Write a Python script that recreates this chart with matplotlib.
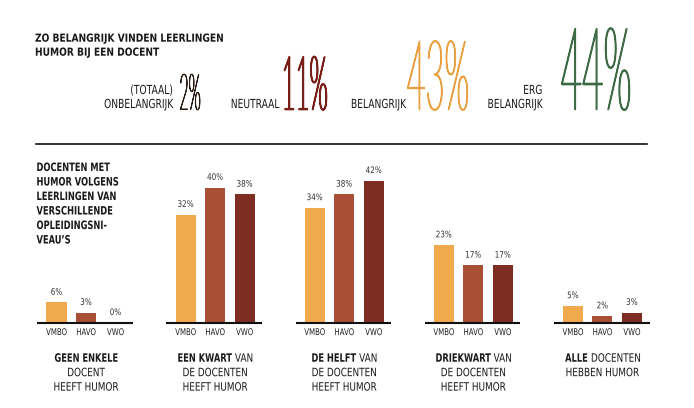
import matplotlib
matplotlib.use('Agg')
import matplotlib.pyplot as plt
import matplotlib.patheffects as pe
from matplotlib.transforms import Affine2D
from matplotlib.lines import Line2D
from matplotlib.textpath import TextPath
from matplotlib.font_manager import FontProperties

# top block: how important pupils find humour in a teacher
title = ['ZO BELANGRIJK VINDEN LEERLINGEN', 'HUMOR BIJ EEN DOCENT']
overall_labels = ['(TOTAAL)\nONBELANGRIJK', 'NEUTRAAL', 'BELANGRIJK', 'ERG\nBELANGRIJK']
overall_pct = [2, 11, 43, 44]

# bars: share of teachers with humour, per school level
levels = ['VMBO', 'HAVO', 'VWO']
vmbo = [6, 32, 34, 23, 5]
havo = [3, 40, 38, 17, 2]
vwo = [0, 38, 42, 17, 3]

side_title = ['DOCENTEN MET', 'HUMOR VOLGENS', 'LEERLINGEN VAN',
              'VERSCHILLENDE', 'OPLEIDINGSNI-', 'VEAU\u2019S']
caption_head = ['GEEN ENKELE', 'EEN KWART', 'DE HELFT', 'DRIEKWART', 'ALLE']
caption_tail = ['', 'VAN', 'VAN', 'VAN', 'DOCENTEN']
caption_body = [['DOCENT', 'HEEFT HUMOR'],
                ['DE DOCENTEN', 'HEEFT HUMOR'],
                ['DE DOCENTEN', 'HEEFT HUMOR'],
                ['DE DOCENTEN', 'HEEFT HUMOR'],
                ['HEBBEN HUMOR']]

bar_colors = ['#f1a94e', '#a84f35', '#7d2d22']
big_colors = ['#2a1a14', '#7a1f17', '#e9a040', '#3d6b45']
big_sizes = [36, 54, 70, 83]
big_sx = [0.32, 0.32, 0.335, 0.32]
big_lw = [0.7, 1.2, 1.0, 1.1]
ink = '#1a1a1a'


class Stretch(pe.AbstractPathEffect):
    # the original uses a condensed face: draw a smaller font and stretch it upwards,
    # optionally with an outline so thin glyphs get an even stroke
    def __init__(self, sy, lw=0):
        super().__init__()
        self.sy = sy
        self.lw = lw

    def draw_path(self, renderer, gc, tpath, affine, rgbFace=None):
        t = Affine2D().scale(1, self.sy) + affine
        if self.lw:
            gc0 = renderer.new_gc()
            gc0.copy_properties(gc)
            gc0.set_linewidth(self.lw)
            gc0.set_foreground(rgbFace)
            gc0.set_joinstyle('round')
            renderer.draw_path(gc0, tpath, t, rgbFace)
            gc0.restore()
        else:
            renderer.draw_path(gc, tpath, t, rgbFace)


def cond(size, sx, lw=0):
    # font size + effect so the text is `size` tall and sx as wide as normal
    return dict(fontsize=size * sx, path_effects=[Stretch(1 / sx, lw)])


W, H = 694, 408
fig = plt.figure(figsize=(W / 100, H / 100), dpi=100)
fig.patch.set_facecolor('white')


def ptext(x, y, s, ha='left', **kw):
    # x, y in pixels from top left
    return fig.text(x / W, 1 - y / H, s, ha=ha, va='baseline', **kw)


def width_pt(s, size, weight='normal'):
    p = TextPath((0, 0), s, size=size, prop=FontProperties(family='DejaVu Sans', weight=weight))
    return p.get_extents().width


# title
ptext(35, 41.7, title[0], fontweight='bold', color=ink, **cond(8, 0.82))
ptext(35, 55.7, title[1], fontweight='bold', color=ink, **cond(8, 0.82))

label_right = [172.7, 279.3, 405.7, 542.3]
num_left = [179.3, 281.7, 406.7, 560.7]
for lab, pct, xr, xl, c, fs, sx, lw in zip(overall_labels, overall_pct, label_right, num_left,
                                            big_colors, big_sizes, big_sx, big_lw):
    lines = lab.split('\n')
    for k, ln in enumerate(lines):
        ptext(xr, 108 - 14 * (len(lines) - 1 - k), ln, ha='right', color=ink, **cond(9, 0.73))
    ptext(xl, 109.5, f'{pct}%', color=c, family='Lato', fontweight='light', **cond(fs, sx, lw))

fig.add_artist(Line2D([36 / W, 647 / W], [1 - 144 / H] * 2, color='#111111', lw=1.2))

for k, ln in enumerate(side_title):
    ptext(36.5, 171 + 14.5 * k, ln, fontweight='bold', color=ink, **cond(8.3, 0.72))

# bar area, 1 x unit = one bar slot
ax = fig.add_axes([0, (H - 322.7) / H, 1, 50 * 3.38 / H])
ax.set_xlim(-86 / 29.5, (W - 86) / 29.5)
ax.set_ylim(0, 50)
ax.axis('off')

step = 4.376
centers = [g * step for g in range(len(vmbo))]

for i, (lvl, vals, col) in enumerate(zip(levels, [vmbo, havo, vwo], bar_colors)):
    xs = [c + i - 1 for c in centers]
    ax.bar(xs, vals, width=0.68, color=col, zorder=2)
    for x, v in zip(xs, vals):
        ax.annotate(f'{v}%', (x, v), xytext=(0, 5.5), textcoords='offset points',
                    ha='center', va='baseline', color='#333333', **cond(6.5, 0.8))
        ax.annotate(lvl, (x, 0), xytext=(0, -8.9), textcoords='offset points',
                    ha='center', va='baseline', color='#222222', **cond(6.7, 0.75))

sxb, sxr, fs = 0.72, 0.77, 8.3
for g, c in enumerate(centers):
    ax.hlines(0, c - 1.65, c + 1.6, color='#111111', lw=1.5, zorder=3, clip_on=False)

    # caption under each group, first words in bold
    head, tail = caption_head[g], caption_tail[g]
    y0 = -28.1
    if tail:
        wb = width_pt(head, fs * sxb, 'bold')
        wr = width_pt(tail, fs * sxr)
        gap = 2.4
        left = -(wb + gap + wr) / 2
        ax.annotate(head, (c, 0), xytext=(left + wb, y0), textcoords='offset points',
                    ha='right', va='baseline', fontweight='bold', color=ink, **cond(fs, sxb))
        ax.annotate(tail, (c, 0), xytext=(left + wb + gap, y0), textcoords='offset points',
                    ha='left', va='baseline', color=ink, **cond(fs, sxr))
    else:
        ax.annotate(head, (c, 0), xytext=(0, y0), textcoords='offset points',
                    ha='center', va='baseline', fontweight='bold', color=ink, **cond(fs, sxb))
    for k, ln in enumerate(caption_body[g]):
        ax.annotate(ln, (c, 0), xytext=(0, y0 - 10.4 * (k + 1)), textcoords='offset points',
                    ha='center', va='baseline', color=ink, **cond(fs, sxr))

fig.savefig('out.png', dpi=100, facecolor='white')
